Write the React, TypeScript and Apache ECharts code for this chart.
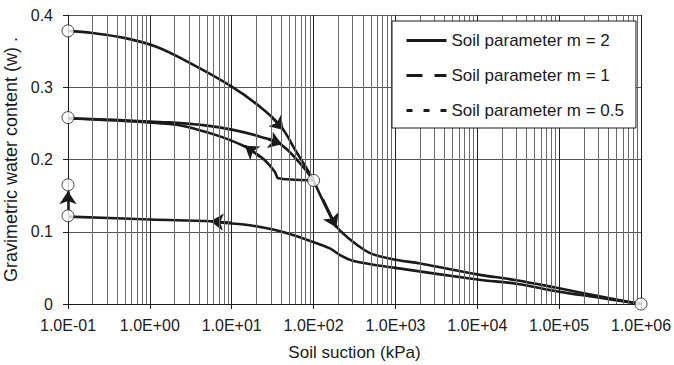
import React, { useEffect, useRef } from "react";
import * as echarts from "echarts";

// Tick labels
const xTickLabels = ["1.0E-01", "1.0E+00", "1.0E+01", "1.0E+02", "1.0E+03", "1.0E+04", "1.0E+05", "1.0E+06"];
const yTickLabels = ["0", "0.1", "0.2", "0.3", "0.4"];

// Legend names
const seriesNames = ["Soil parameter m = 2", "Soil parameter m = 1", "Soil parameter m = 0.5"];

// Main drying curve from w = 0.378
const dryTopX = [0.1, 0.2, 0.5, 1.2, 3.4, 10, 20, 39, 62, 80, 100];
const dryTopY = [0.378, 0.375, 0.368, 0.356, 0.331, 0.301, 0.277, 0.247, 0.21, 0.19, 0.171];

// Drying curve from w = 0.258
const dryMidX = [0.1, 1.3, 4.1, 10.4, 26.7, 38.8, 68, 100];
const dryMidY = [0.257, 0.252, 0.248, 0.241, 0.229, 0.222, 0.195, 0.171];

// Wetting curve back to w = 0.258
const wetMidX = [100, 37, 33.6, 25.4, 18.3, 14.5, 7.2, 2.1, 0.1];
const wetMidY = [0.171, 0.174, 0.183, 0.199, 0.211, 0.218, 0.232, 0.248, 0.257];

// Drying curve below 100 kPa
const dryLowX = [100, 174, 209, 338, 525, 1050, 2000, 10000, 30000, 100000, 300000, 1000000];
const dryLowY = [0.171, 0.114, 0.102, 0.082, 0.069, 0.061, 0.056, 0.041, 0.033, 0.0217, 0.011, 0];

// Wetting curve from 1E+06 back to 0.1 kPa
const wetLowX = [1000000, 300000, 100000, 30000, 10000, 1000, 300, 209, 158, 98, 56, 32, 16.6, 7.2, 5.7, 1, 0.1];
const wetLowY = [0, 0.009, 0.017, 0.028, 0.034, 0.05, 0.06, 0.068, 0.077, 0.086, 0.0955, 0.103, 0.109, 0.113, 0.1145, 0.117, 0.121];

// Arrow segments [fromX, fromY, toX, toY]
const arrowSegments = [
  [30, 0.26, 43, 0.241],
  [28, 0.228, 41, 0.221],
  [22, 0.204, 14.5, 0.219],
  [130, 0.145, 190, 0.106],
  [10, 0.1125, 5.5, 0.1146],
  [0.1, 0.13, 0.1, 0.156],
];

// Open circle markers
const circleX = [0.1, 0.1, 0.1, 0.1, 100, 1000000];
const circleY = [0.378, 0.258, 0.165, 0.122, 0.171, 0];

// Minor log grid values (2..9 per decade)
const minorMultipliers = [2, 3, 4, 5, 6, 7, 8, 9];
const decadeExps = [-1, 0, 1, 2, 3, 4, 5];

const FONT = "'Liberation Sans', Arial, sans-serif";
const INK = "#1a1a1a";

const zip = (xs: number[], ys: number[]) => xs.map((x, i) => [x, ys[i]]);

export default function App() {
  const ref = useRef<HTMLDivElement>(null);

  useEffect(() => {
    if (!ref.current) return;
    const chart = echarts.init(ref.current, null, { renderer: "svg" });

    const minorGrid: number[] = [];
    decadeExps.forEach((e) => minorMultipliers.forEach((m) => minorGrid.push(+(m * Math.pow(10, e)).toPrecision(6))));

    const curve = (xs: number[], ys: number[], smooth: number) => ({
      type: "line",
      name: seriesNames[0],
      data: zip(xs, ys),
      symbol: "none",
      smooth,
      lineStyle: { color: INK, width: 2.6, type: "solid" },
      itemStyle: { color: INK },
      z: 3,
    });

    const option: any = {
      animation: false,
      backgroundColor: "#fff",
      textStyle: { fontFamily: FONT },
      grid: { left: 68, right: 33, top: 15, bottom: 61, containLabel: false, outerBoundsMode: "none" },
      legend: {
        orient: "vertical",
        left: 392,
        top: 21,
        data: seriesNames,
        padding: [11, 12, 9, 13],
        itemGap: 18,
        itemWidth: 40,
        itemHeight: 14,
        backgroundColor: "#fff",
        borderColor: INK,
        borderWidth: 1,
        borderRadius: 0,
        itemStyle: { opacity: 0 },
        lineStyle: { width: 3 },
        textStyle: { fontSize: 17, color: INK, fontFamily: FONT },
        z: 10,
      },
      xAxis: {
        type: "log",
        logBase: 10,
        min: 0.1,
        max: 1000000,
        name: "Soil suction (kPa)",
        nameLocation: "middle",
        nameGap: 40,
        nameTextStyle: { fontSize: 17, color: INK, fontFamily: FONT },
        axisLine: { show: true, lineStyle: { color: INK, width: 1 } },
        axisTick: { show: true, inside: false, length: 5, lineStyle: { color: INK } },
        axisLabel: {
          margin: 13,
          fontSize: 16,
          color: INK,
          fontFamily: FONT,
          formatter: (v: number) => {
            const e = Math.round(Math.log10(v));
            return xTickLabels[e + 1] ?? "";
          },
        },
        splitLine: { show: true, lineStyle: { color: "#222", width: 1 } },
        minorTick: { show: false },
      },
      yAxis: {
        type: "value",
        min: 0,
        max: 0.4,
        interval: 0.1,
        name: "Gravimetric water content (w) .",
        nameLocation: "middle",
        nameRotate: 90,
        nameGap: 38,
        nameTextStyle: { fontSize: 18, color: INK, fontFamily: FONT },
        axisLine: { show: true, lineStyle: { color: INK, width: 1 } },
        axisTick: { show: true, inside: false, length: 5, lineStyle: { color: INK } },
        axisLabel: {
          margin: 15,
          fontSize: 16,
          color: INK,
          fontFamily: FONT,
          formatter: (v: number) => yTickLabels[Math.round(v * 10)] ?? "",
        },
        splitLine: { show: true, lineStyle: { color: "#555", width: 1 } },
      },
      series: [
        {
          type: "line",
          name: "__grid",
          data: [],
          silent: true,
          markLine: {
            silent: true,
            symbol: "none",
            label: { show: false },
            lineStyle: { color: "#6a6a6a", width: 1, type: "solid" },
            data: minorGrid.map((v) => ({ xAxis: v })),
          },
          z: 1,
        },
        curve(dryTopX, dryTopY, 0.4),
        curve(dryMidX, dryMidY, 0.5),
        curve(wetMidX, wetMidY, 0.2),
        curve(dryLowX, dryLowY, 0.4),
        curve(wetLowX, wetLowY, 0.4),
        {
          type: "line",
          name: seriesNames[1],
          data: [],
          symbol: "none",
          lineStyle: { color: INK, width: 3, type: [16, 12] },
          itemStyle: { color: INK },
        },
        {
          type: "line",
          name: seriesNames[2],
          data: [],
          symbol: "none",
          lineStyle: { color: INK, width: 3, type: [6, 11] },
          itemStyle: { color: INK },
        },
        {
          type: "lines",
          name: "__arrows",
          coordinateSystem: "cartesian2d",
          silent: true,
          clip: false,
          symbol: ["none", "arrow"],
          symbolSize: [9, 13],
          lineStyle: { color: INK, width: 2.6, opacity: 1 },
          data: arrowSegments.map((s) => ({ coords: [[s[0], s[1]], [s[2], s[3]]] })),
          z: 4,
        },
        {
          type: "scatter",
          name: "__circles",
          data: zip(circleX, circleY),
          symbol: "circle",
          symbolSize: 12,
          clip: false,
          silent: true,
          itemStyle: { color: "#fff", borderColor: INK, borderWidth: 1 },
          z: 6,
        },
      ],
    };

    chart.setOption(option);
    return () => chart.dispose();
  }, []);

  return <div ref={ref} style={{ width: 674, height: 365, position: "absolute", left: 0, top: 0 }} />;
}
